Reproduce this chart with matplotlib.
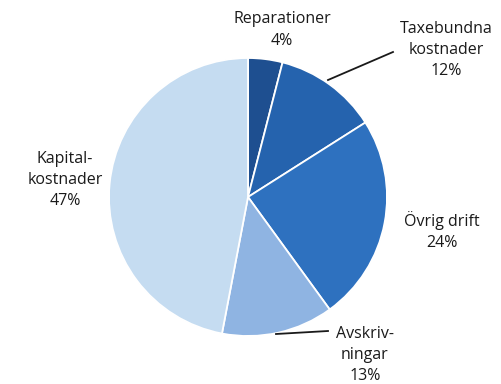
import matplotlib.pyplot as plt

# Data
labels = ["Reparationer\n4%", "Taxebundna\nkostnader\n12%", "Övrig drift\n24%",
          "Avskriv-\nningar\n13%", "Kapital-\nkostnader\n47%"]
shares = [4, 12, 24, 13, 47]
colors = ["#1e4f90", "#2563ae", "#2e71bf", "#8fb4e2", "#c5dcf1"]

plt.rcParams['font.family'] = ['Open Sans', 'DejaVu Sans']

H = 384
fig = plt.figure(figsize=(5.01, 3.84), dpi=100)
ax = fig.add_axes([0, 0, 1, 1])

cx, cy, r = 248, 197, 139
ax.pie(shares, colors=colors, startangle=90, counterclock=False,
       center=(cx, H - cy), radius=r, frame=True,
       wedgeprops=dict(edgecolor='white', linewidth=1.3))
ax.set_xlim(0, 501)
ax.set_ylim(0, H)
ax.set_aspect('equal')
ax.axis('off')

# label positions (pixels from top)
pos = [(282, 30), (446, 50), (442, 231), (365, 355), (65, 180)]
for lab, (x, y) in zip(labels, pos):
    ax.text(x, H - y, lab, ha='center', va='center', fontsize=11.5,
            linespacing=1.42, color='#1a1a1a')

# leader lines
ax.plot([393, 328], [H - 52, H - 80], color='#1a1a1a', lw=1.3)
ax.plot([328, 276], [H - 331, H - 334], color='#1a1a1a', lw=1.3)

fig.savefig("out.png", dpi=100)
